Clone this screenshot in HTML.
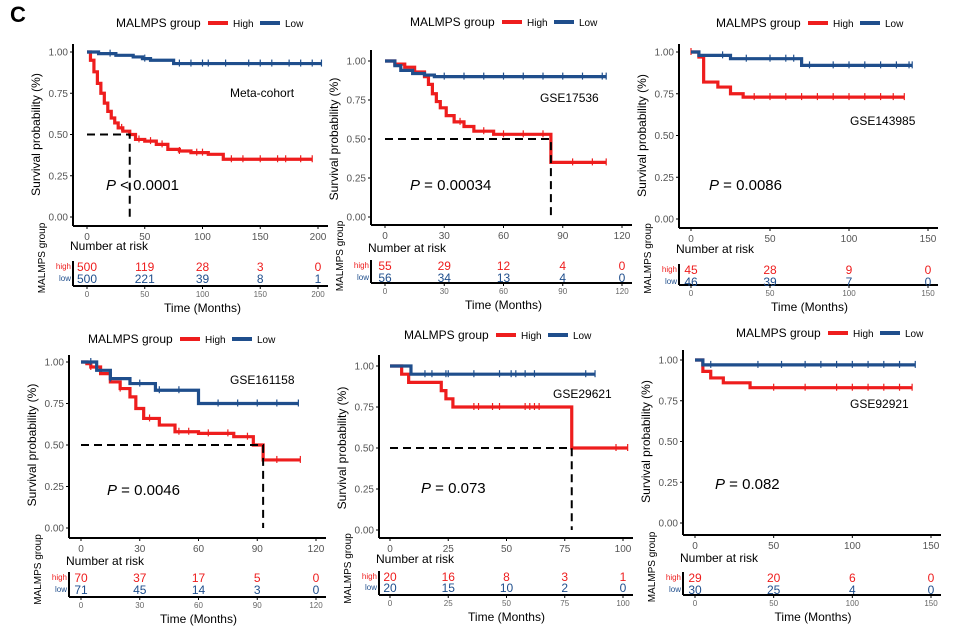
<!DOCTYPE html>
<html><head><meta charset="utf-8"><style>
html,body{margin:0;padding:0;background:#fff;width:980px;height:634px;overflow:hidden}
svg{display:block;font-family:"Liberation Sans",Arial,sans-serif}
</style></head><body>
<svg id="fig" width="980" height="634" viewBox="0 0 980 634">
<text x="10" y="22" font-size="22" font-weight="bold">C</text>
</svg>
<script>
// ---- data ----
const p1HighT=[0,3,6,9,12,15,18,21,24,27,31,37,42,50,60,70,80,90,105,118];
const p1HighS=[1,0.95,0.88,0.81,0.75,0.69,0.64,0.60,0.57,0.54,0.52,0.50,0.47,0.46,0.44,0.41,0.40,0.39,0.38,0.35];
const p1LowT=[0,10,25,40,48,55,75];
const p1LowS=[1,0.99,0.98,0.97,0.96,0.95,0.93];
const p1HighC=[30,45,55,65,80,95,100,125,135,150,165,172,185,195];
const p1LowC=[20,50,80,90,100,105,120,140,150,160,175,185,195,203];
const p1RiskHigh=["500","119","28","3","0"];
const p1RiskLow=["500","221","39","8","1"];

const p2HighT=[0,5,10,15,20,22,24,26,28,31,35,40,45,55,84];
const p2HighS=[1,0.98,0.96,0.93,0.90,0.85,0.79,0.74,0.70,0.65,0.61,0.58,0.55,0.53,0.35];
const p2LowT=[0,5,8,14,20,25];
const p2LowS=[1,0.97,0.94,0.92,0.91,0.90];
const p2HighC=[38,50,60,70,80,95,105,112];
const p2LowC=[30,40,50,60,70,80,90,100,110,112];
const p2RiskHigh=["55","29","12","4","0"];
const p2RiskLow=["56","34","13","4","0"];

const p3HighT=[0,5,8,17,25,33];
const p3HighS=[1,0.97,0.82,0.79,0.75,0.73];
const p3LowT=[0,5,25,70];
const p3LowS=[1,0.98,0.96,0.92];
const p3HighC=[0,40,50,60,70,80,90,100,110,120,128,135];
const p3LowC=[20,35,50,60,65,75,90,100,110,120,130,138,140];
const p3RiskHigh=["45","28","9","0"];
const p3RiskLow=["46","39","7","0"];

const p4HighT=[0,3,5,10,15,20,25,28,32,40,48,60,78,88,93];
const p4HighS=[1,0.99,0.97,0.93,0.88,0.84,0.79,0.72,0.66,0.62,0.58,0.57,0.55,0.50,0.41];
const p4LowT=[0,8,15,25,38,60];
const p4LowS=[1,0.95,0.90,0.87,0.83,0.75];
const p4HighC=[5,20,35,50,55,65,75,85,100,112];
const p4LowC=[5,15,30,40,50,70,80,90,100,111];
const p4RiskHigh=["70","37","17","5","0"];
const p4RiskLow=["71","45","14","3","0"];

const p5HighT=[0,5,8,22,24,27,78];
const p5HighS=[1,0.95,0.90,0.85,0.80,0.75,0.50];
const p5LowT=[0,9];
const p5LowS=[1,0.95];
const p5HighC=[36,38,44,47,58,60,62,64,97,102];
const p5LowC=[15,18,24,25,36,47,52,54,58,62,84,88];
const p5RiskHigh=["20","16","8","3","1"];
const p5RiskLow=["20","15","10","2","0"];

const p6HighT=[0,5,10,18,35];
const p6HighS=[1,0.93,0.89,0.86,0.83];
const p6LowT=[0,5];
const p6LowS=[1,0.97];
const p6HighC=[50,70,90,100,110,120,130,138];
const p6LowC=[10,40,55,70,80,90,100,110,120,130,140];
const p6RiskHigh=["29","20","6","0"];
const p6RiskLow=["30","25","4","0"];

const RED="#ee1d1d", BLUE="#1f4e8c";
const NS="http://www.w3.org/2000/svg";
const svg=document.getElementById('fig');
function mk(tag,attrs,parent,txt){const e=document.createElementNS(NS,tag);for(const k in attrs)e.setAttribute(k,attrs[k]);if(txt!==undefined)e.textContent=txt;(parent||svg).appendChild(e);return e;}

function panel(c){
  const g=mk('g',{});
  
  
  const sx=t=>c.x0+(c.x1-c.x0)*t/c.xmax;
  const sy=s=>c.y0+(c.y1-c.y0)*s;
  const lg=mk('g',{},g);
  
  
  mk('text',{x:c.lx,y:c.ly+4,'font-size':12},lg,'MALMPS group');
  mk('line',{x1:c.lx+92,y1:c.ly,x2:c.lx+112,y2:c.ly,stroke:RED,'stroke-width':4},lg);
  mk('text',{x:c.lx+117,y:c.ly+4,'font-size':10},lg,'High');
  mk('line',{x1:c.lx+144,y1:c.ly,x2:c.lx+164,y2:c.ly,stroke:BLUE,'stroke-width':4},lg);
  mk('text',{x:c.lx+169,y:c.ly+4,'font-size':10},lg,'Low');
  mk('line',{x1:c.ax,y1:c.top,x2:c.ax,y2:c.axy,stroke:'#000','stroke-width':2},g);
  mk('line',{x1:c.ax,y1:c.axy,x2:c.x1+10,y2:c.axy,stroke:'#000','stroke-width':2},g);
  [0,0.25,0.5,0.75,1].forEach(v=>{
    const y=sy(v);
    mk('line',{x1:c.ax-3,y1:y,x2:c.ax,y2:y,stroke:'#000'},g);
    mk('text',{x:c.ax-5,y:y+3.5,'font-size':10,fill:'#555','text-anchor':'end'},g,v.toFixed(2));
  });
  c.xticks.forEach(t=>{
    const x=sx(t);
    mk('line',{x1:x,y1:c.axy,x2:x,y2:c.axy+3,stroke:'#000'},g);
    mk('text',{x:x,y:c.axy+14,'font-size':10,fill:'#555','text-anchor':'middle'},g,String(t));
  });
  const yt=mk('text',{x:0,y:0,'font-size':12,'text-anchor':'middle',transform:`translate(${c.ax-33},${(sy(0)+sy(1))/2}) rotate(-90)`},g,'Survival probability (%)');
  
  
  function curve(T,S,end,C,col,name){
    let d=`M${sx(T[0])},${sy(S[0])}`;
    for(let i=1;i<T.length;i++){d+=`H${sx(T[i])}V${sy(S[i])}`;}
    d+=`H${sx(end)}`;
    const p=mk('path',{d:d,fill:'none',stroke:col,'stroke-width':3.2},g);
    
    
    C.forEach(t=>{
      let s=S[0];for(let i=0;i<T.length;i++){if(T[i]<=t)s=S[i];}
      const m=mk('line',{x1:sx(t),y1:sy(s)-4,x2:sx(t),y2:sy(s)+3,stroke:col,'stroke-width':1.2},g);
      
      
    });
  }
  curve(c.hT,c.hS,c.hEnd,c.hC,RED,'high-curve');
  curve(c.lT,c.lS,c.lEnd,c.lC,BLUE,'low-curve');
  if(c.med!==undefined){
    mk('path',{d:`M${sx(0)},${sy(0.5)}H${sx(c.med)}V${sy(0)}`,fill:'none',stroke:'#000','stroke-width':2,'stroke-dasharray':'8,5'},g);
  }
  const pv=mk('text',{x:c.px,y:c.py,'font-size':15},g);
  mk('tspan',{'font-style':'italic'},pv,'P');
  mk('tspan',{},pv,c.ptxt);
  
  
  const ct=mk('text',{x:c.cx,y:c.cy,'font-size':12},g,c.cohort);
  
  
  mk('text',{x:c.ax-3,y:c.nary,'font-size':12},g,'Number at risk');
  mk('line',{x1:c.ax,y1:c.hy-10,x2:c.ax,y2:c.tay,stroke:'#000','stroke-width':2},g);
  mk('line',{x1:c.ax,y1:c.tay,x2:c.x1+10,y2:c.tay,stroke:'#000','stroke-width':2},g);
  mk('text',{x:c.ax-2,y:c.hy-2,'font-size':8,fill:RED,'text-anchor':'end'},g,'high');
  mk('text',{x:c.ax-2,y:c.lyr-2,'font-size':8,fill:BLUE,'text-anchor':'end'},g,'low');
  c.xticks.forEach((t,i)=>{
    const x=sx(t);
    mk('text',{x:x,y:c.hy,'font-size':12,fill:RED,'text-anchor':'middle'},g,c.rh[i]);
    mk('text',{x:x,y:c.lyr,'font-size':12,fill:BLUE,'text-anchor':'middle'},g,c.rl[i]);
    mk('line',{x1:x,y1:c.tay,x2:x,y2:c.tay+3,stroke:'#000'},g);
    mk('text',{x:x,y:c.tay+11,'font-size':8,fill:'#666','text-anchor':'middle'},g,String(t));
  });
  const xt=mk('text',{x:(c.x0+c.x1)/2,y:c.tay+26,'font-size':12,'text-anchor':'middle'},g,'Time (Months)');
  
  
  mk('text',{x:0,y:0,'font-size':10,'text-anchor':'middle',transform:`translate(${c.ax-28},${(c.axy+c.tay)/2+2}) rotate(-90)`},g,'MALMPS group');
}

panel({id:'panel-meta-cohort',x0:87,x1:318,y0:217,y1:52,xmax:200,top:44,ax:73,axy:226,xticks:[0,50,100,150,200],
 hT:p1HighT,hS:p1HighS,hEnd:195,hC:p1HighC,lT:p1LowT,lS:p1LowS,lEnd:203,lC:p1LowC,med:37,
 px:106,py:190,ptxt:' < 0.0001',cx:230,cy:97,cohort:'Meta-cohort',lx:116,ly:23,nary:250,hy:271,lyr:283,tay:286,rh:p1RiskHigh,rl:p1RiskLow});
panel({id:'panel-gse17536',x0:385,x1:622,y0:217,y1:61,xmax:120,top:50,ax:371,axy:225,xticks:[0,30,60,90,120],
 hT:p2HighT,hS:p2HighS,hEnd:112,hC:p2HighC,lT:p2LowT,lS:p2LowS,lEnd:112,lC:p2LowC,med:84,
 px:410,py:190,ptxt:' = 0.00034',cx:540,cy:102,cohort:'GSE17536',lx:410,ly:22,nary:252,hy:270,lyr:282,tay:283,rh:p2RiskHigh,rl:p2RiskLow});
panel({id:'panel-gse143985',x0:691,x1:928,y0:219,y1:52,xmax:150,top:44,ax:679,axy:228,xticks:[0,50,100,150],
 hT:p3HighT,hS:p3HighS,hEnd:135,hC:p3HighC,lT:p3LowT,lS:p3LowS,lEnd:140,lC:p3LowC,
 px:709,py:190,ptxt:' = 0.0086',cx:850,cy:125,cohort:'GSE143985',lx:716,ly:23,nary:253,hy:274,lyr:286,tay:285,rh:p3RiskHigh,rl:p3RiskLow});
panel({id:'panel-gse161158',x0:81,x1:316,y0:528,y1:362,xmax:120,top:355,ax:69,axy:538,xticks:[0,30,60,90,120],
 hT:p4HighT,hS:p4HighS,hEnd:112,hC:p4HighC,lT:p4LowT,lS:p4LowS,lEnd:111,lC:p4LowC,med:93,
 px:107,py:495,ptxt:' = 0.0046',cx:230,cy:384,cohort:'GSE161158',lx:88,ly:339,nary:565,hy:582,lyr:594,tay:597,rh:p4RiskHigh,rl:p4RiskLow});
panel({id:'panel-gse29621',x0:390,x1:623,y0:530,y1:366,xmax:100,top:355,ax:379,axy:538,xticks:[0,25,50,75,100],
 hT:p5HighT,hS:p5HighS,hEnd:102,hC:p5HighC,lT:p5LowT,lS:p5LowS,lEnd:88,lC:p5LowC,med:78,
 px:421,py:493,ptxt:' = 0.073',cx:553,cy:398,cohort:'GSE29621',lx:404,ly:335,nary:563,hy:581,lyr:592,tay:595,rh:p5RiskHigh,rl:p5RiskLow});
panel({id:'panel-gse92921',x0:695,x1:931,y0:523,y1:360,xmax:150,top:350,ax:683,axy:535,xticks:[0,50,100,150],
 hT:p6HighT,hS:p6HighS,hEnd:138,hC:p6HighC,lT:p6LowT,lS:p6LowS,lEnd:140,lC:p6LowC,
 px:715,py:489,ptxt:' = 0.082',cx:850,cy:408,cohort:'GSE92921',lx:736,ly:333,nary:562,hy:582,lyr:594,tay:595,rh:p6RiskHigh,rl:p6RiskLow});
</script>
</body></html>
